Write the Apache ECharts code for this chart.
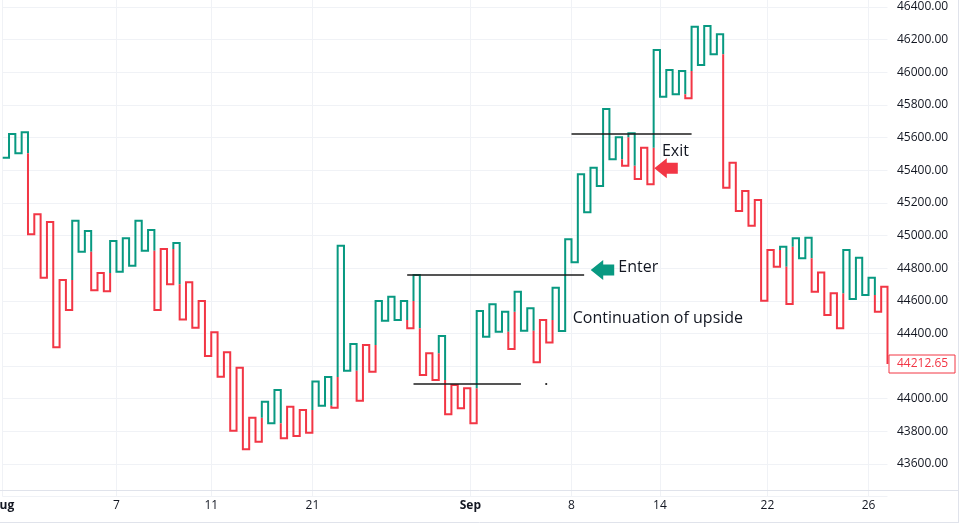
<!DOCTYPE html>
<html><head><meta charset="utf-8">
<script src="https://cdn.jsdelivr.net/npm/echarts@6/dist/echarts.min.js"></script>
<style>html,body{margin:0;padding:0;background:#fff}#c{width:969px;height:532px}</style>
</head><body><div id="c"></div>
<script>
// Kagi turning prices, one per column (column 0 = starting level)
const kagiPrices = [45477, 45622, 45504, 45632, 45007, 45130, 44741, 45083, 44315, 44727,
 44543, 45091, 44901, 45027, 44664, 44770, 44658, 44966, 44778, 44983,
 44815, 45091, 44907, 45034, 44543, 44917, 44701, 44954, 44486, 44713,
 44435, 44599, 44262, 44407, 44135, 44284, 43804, 44190, 43690, 43883,
 43736, 43981, 43849, 44053, 43757, 43951, 43771, 43931, 43792, 44106,
 43957, 44133, 43945, 44937, 44171, 44335, 43988, 44329, 44165, 44599,
 44478, 44625, 44482, 44599, 44431, 44758, 44145, 44278, 44114, 44384,
 43904, 44084, 43941, 44064, 43849, 44537, 44380, 44578, 44410, 44533,
 44304, 44655, 44416, 44554, 44223, 44482, 44345, 44680, 44415, 44977,
 44836, 45375, 45142, 45415, 45303, 45775, 45467, 45602, 45428, 45626,
 45346, 45538, 45314, 46137, 45850, 46014, 45865, 46008, 45841, 46279,
 46045, 46284, 46110, 46233, 45293, 45446, 45150, 45273, 45060, 45217,
 44600, 44911, 44809, 44931, 44580, 44983, 44860, 44986, 44655, 44774,
 44513, 44646, 44431, 44911, 44611, 44864, 44635, 44741, 44533, 44686,
 44212.65];

// x-axis tick labels (column index -> label)
const tickColumns = [0, 18, 33, 49, 74, 90, 104, 121, 137];
const tickLabels = ['Aug', '7', '11', '21', 'Sep', '8', '14', '22', '26'];
const monthLabels = ['Aug', 'Sep'];

// price axis
const priceMin = 43400, priceMax = 46600, priceStep = 200;
const lastPrice = 44212.65;

// drawn annotations (column index, price)
const trendLineFrom = [[64, 44758], [65, 44090], [90, 45622]];
const trendLineTo   = [[92, 44758], [82, 44090], [109, 45622]];
const dotPoint = [86, 44090];
const enterArrowTip = [93.04, 44788];
const exitArrowTip = [103.1, 45412];
const noteTexts = ['Enter', 'Exit', 'Continuation of upside'];
const notePoints = [[97.4, 44807], [104.3, 45513], [90.2, 44494]];

const GREEN = '#089981', RED = '#F23645', INK = '#131722';
const FONT = '"Open Sans", "Noto Sans", sans-serif';

const categories = kagiPrices.map(() => '');
tickColumns.forEach((c, i) => { categories[c] = tickLabels[i]; });

// Build Kagi colour runs (yang = green, yin = red)
function buildRuns() {
  const runs = [];
  let state = 'yang';
  let cur = { color: GREEN, pts: [[0, kagiPrices[0]]] };
  const add = (x, y) => cur.pts.push([x, y]);
  const sw = (x, y, color) => { add(x, y); runs.push(cur); cur = { color, pts: [[x, y]] }; };
  for (let i = 1; i < kagiPrices.length; i++) {
    const prev = kagiPrices[i - 1], p = kagiPrices[i];
    add(i, prev);
    const ref = i >= 2 ? kagiPrices[i - 2] : null;
    if (p > prev) {
      if (state === 'yin' && ref !== null && p > ref) { sw(i, ref, GREEN); state = 'yang'; }
    } else {
      if (state === 'yang' && ref !== null && p < ref) { sw(i, ref, RED); state = 'yin'; }
    }
    add(i, p);
  }
  runs.push(cur);
  return runs;
}
const runs = buildRuns();

function px(api, pt) {
  const x = pt[0], y = pt[1];
  const i = Math.floor(x), f = x - i;
  const a = api.coord([i, y]), b = api.coord([i + 1, y]);
  return [a[0] + (b[0] - a[0]) * f, a[1]];
}
function arrow(api, tip, color) {
  const t = px(api, tip);
  const pts = [[0, 0], [12.5, -10], [12.5, -5.5], [23.5, -5.5], [23.5, 5.5], [12.5, 5.5], [12.5, 10]]
    .map(d => [t[0] + d[0], t[1] + d[1]]);
  return { type: 'polygon', shape: { points: pts }, style: { fill: color } };
}

const chart = echarts.init(document.getElementById('c'), null, { renderer: 'canvas' });
chart.setOption({
  animation: false,
  backgroundColor: '#ffffff',
  grid: { left: 2.7, right: 81.5, top: -25.6, bottom: 35.4, containLabel: false, outerBoundsMode: 'none' },
  xAxis: {
    type: 'category', data: categories, boundaryGap: false,
    axisLine: { show: false }, axisTick: { show: false },
    axisLabel: {
      interval: (idx, val) => val !== '', margin: 3, fontSize: 12, color: INK, fontFamily: FONT,
      formatter: v => monthLabels.includes(v) ? '{b|' + v + '}' : v,
      rich: { b: { fontWeight: 'bold', fontSize: 12, color: INK, fontFamily: FONT } }
    },
    splitLine: { show: true, interval: (idx, val) => val !== '', lineStyle: { color: '#f0f2f6', width: 1 } }
  },
  yAxis: {
    type: 'value', position: 'right', min: priceMin, max: priceMax, interval: priceStep,
    axisLine: { show: false }, axisTick: { show: false },
    axisLabel: { formatter: v => v.toFixed(2), margin: 9.5, fontSize: 12, color: INK, fontFamily: FONT,
      showMinLabel: false, showMaxLabel: false },
    splitLine: { lineStyle: { color: '#f0f2f6', width: 1 } }
  },
  graphic: [
    { type: 'line', shape: { x1: 0, y1: 490.5, x2: 959, y2: 490.5 }, style: { stroke: '#e0e3eb', lineWidth: 1 }, z: 10 },
    { type: 'line', shape: { x1: 0, y1: 522.5, x2: 959, y2: 522.5 }, style: { stroke: '#e0e3eb', lineWidth: 1 }, z: 10 },
    { type: 'line', shape: { x1: 958.5, y1: 0, x2: 958.5, y2: 523 }, style: { stroke: '#e0e3eb', lineWidth: 1 }, z: 10 }
  ],
  series: [
    {
      type: 'custom', name: 'kagi', data: [[0, kagiPrices[0]]], encode: { x: 0, y: 1 },
      renderItem: (params, api) => ({
        type: 'group',
        children: runs.map(r => ({
          type: 'polyline',
          shape: { points: r.pts.map(pt => api.coord(pt)) },
          style: { stroke: r.color, lineWidth: 2, fill: 'none', lineJoin: 'miter' }
        }))
      }),
      z: 3
    },
    {
      type: 'custom', name: 'notes', data: [[0, kagiPrices[0]]], encode: { x: 0, y: 1 },
      renderItem: (params, api) => {
        const ch = [];
        trendLineFrom.forEach((a, i) => {
          const p1 = px(api, a), p2 = px(api, trendLineTo[i]);
          ch.push({ type: 'line', shape: { x1: p1[0], y1: p1[1], x2: p2[0], y2: p2[1] },
            style: { stroke: '#1c1c1c', lineWidth: 1.5 } });
        });
        const d = px(api, dotPoint);
        ch.push({ type: 'circle', shape: { cx: d[0], cy: d[1], r: 1.1 }, style: { fill: '#1c1c1c' } });
        ch.push(arrow(api, enterArrowTip, GREEN));
        ch.push(arrow(api, exitArrowTip, RED));
        noteTexts.forEach((t, i) => {
          const p = px(api, notePoints[i]);
          ch.push({ type: 'text', x: p[0], y: p[1],
            style: { text: t, fill: INK, fontSize: 16, fontFamily: FONT, align: 'left', verticalAlign: 'middle' } });
        });
        const e = api.coord([kagiPrices.length - 1, lastPrice]);
        ch.push({ type: 'rect', shape: { x: e[0] + 1.5, y: Math.round(e[1]) - 9, width: 66, height: 18 },
          style: { fill: '#ffffff', stroke: RED, lineWidth: 1 } });
        ch.push({ type: 'text', x: e[0] + 9.5, y: e[1],
          style: { text: lastPrice.toFixed(2), fill: RED, fontSize: 12, fontFamily: FONT, align: 'left', verticalAlign: 'middle' } });
        return { type: 'group', children: ch };
      },
      z: 5
    }
  ]
});
</script>
</body></html>
